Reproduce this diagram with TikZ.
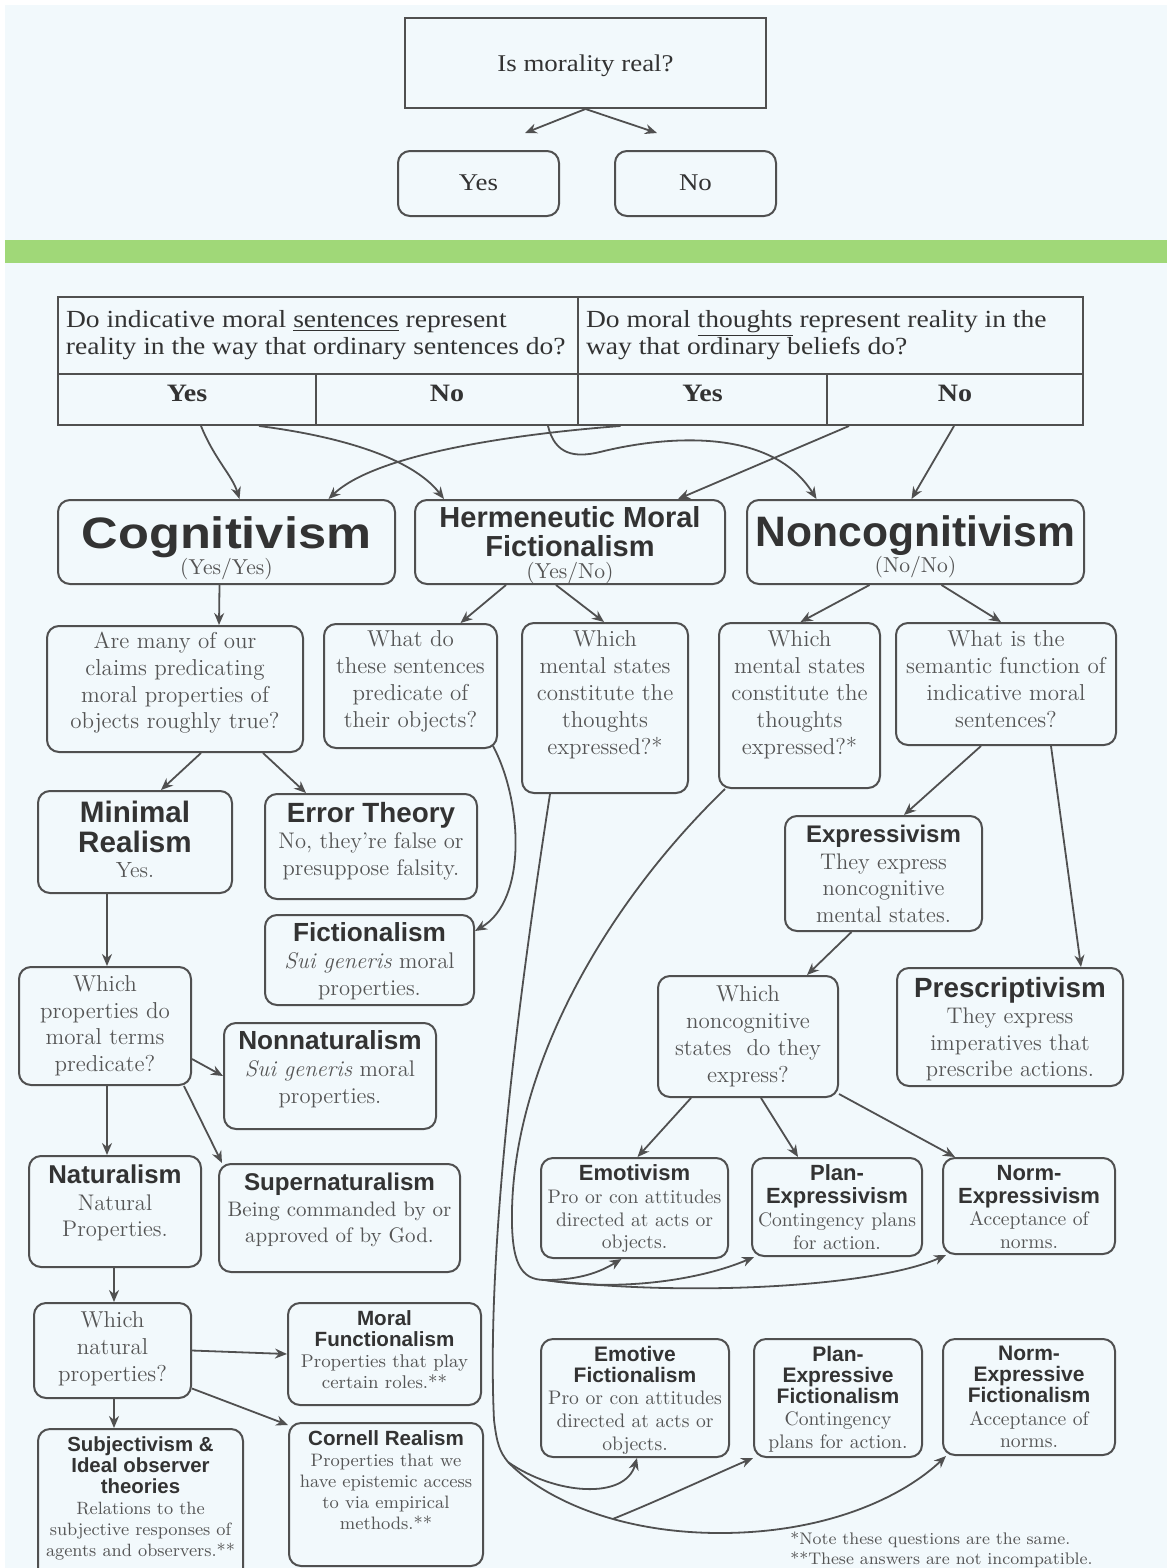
\documentclass[tikz,border=0pt]{standalone}
\usepackage{fontspec}
\newfontfamily\hfam{Liberation Sans}
\newfontfamily\tfam{Liberation Serif}[FakeStretch=1.12]
\usetikzlibrary{arrows.meta,calc}
\definecolor{bg}{HTML}{F2F9FC}
\definecolor{band}{HTML}{A0D878}
\definecolor{linec}{HTML}{505050}
\definecolor{headc}{HTML}{333333}
\definecolor{bodyc}{HTML}{555555}
\newdimen\pxu \pxu=0.5pt
\newcommand\pb[4]{\parbox[c][\dimexpr\pxu*(#2)\relax][t]{\dimexpr\pxu*(#1)\relax}{\centering\vspace*{\dimexpr\pxu*(#3)\relax}#4\par}}
\newcommand\bx[8][box]{\node[#1,anchor=north west,inner sep=0pt] (#2) at (#3,#4) {\pb{#5-#3}{#6-#4}{#7}{#8}};}
\newcommand\Hd[2]{\hfam\bfseries\fontsize{#1}{#2}\selectfont\color{headc}}
\newcommand\Bd[2]{\rmfamily\fontsize{#1}{#2}\selectfont\color{bodyc}}
\newcommand\Td[2]{\tfam\fontsize{#1}{#2}\selectfont\color{headc}}
\tikzset{
 box/.style={draw=linec, line width=1pt, rounded corners=6pt, fill=bg},
 cell/.style={draw=linec, line width=1pt, fill=bg},
 arr/.style={draw=linec, line width=0.9pt, -{Stealth[length=6pt,width=5pt]}},
 con/.style={draw=linec, line width=0.9pt},
}
\begin{document}
\begin{tikzpicture}[x=0.5pt,y=-0.5pt]
\useasboundingbox (0,0) rectangle (1167,1568);
\clip (0,0) rectangle (1167,1568);
\fill[white] (0,0) rectangle (1167,1568);
\fill[bg] (5,5) rectangle (1167,1568);
\fill[band] (5,240) rectangle (1167,263);

% top question
\bx[cell]{q0}{404}{17}{765}{107}{37}{\Td{12}{14}Is morality real?}
\bx{yes0}{397}{150}{558}{215}{24}{\Td{12}{14}Yes}
\bx{no0}{614}{150}{775}{215}{24}{\Td{12}{14}No}
\coordinate (ay) at (525,133);
\coordinate (an) at (657,133);
\draw[arr] (q0.south) -- (ay);
\draw[arr] (q0.south) -- (an);

% table
\bx[cell]{th1}{57}{296}{577}{373}{13}{{\raggedright\leftskip=4pt\Td{12.3}{13.5}Do indicative moral \underline{sentences} represent\\reality in the way that ordinary sentences do?\par}}
\bx[cell]{th2}{577}{296}{1082}{373}{13}{{\raggedright\leftskip=4pt\Td{12.3}{13.5}Do moral \underline{thoughts} represent reality in the\\way that ordinary beliefs do?\par}}
\bx[cell]{ty1}{57}{373}{315}{424}{11}{\Td{12.5}{14}\bfseries Yes}
\bx[cell]{tn1}{315}{373}{577}{424}{11}{\Td{12.5}{14}\bfseries No}
\bx[cell]{ty2}{577}{373}{826}{424}{11}{\Td{12.5}{14}\bfseries Yes}
\bx[cell]{tn2}{826}{373}{1082}{424}{11}{\Td{12.5}{14}\bfseries No}

% main positions
\bx{cog}{57}{499}{394}{583}{17}{{\Hd{22}{24}\addfontfeature{FakeStretch=1.15}Cognitivism\par}{\Bd{10.8}{13}(Yes/Yes)\par}}
\bx{herm}{414}{499}{724}{583}{6}{{\Hd{14.5}{14.5}Hermeneutic Moral\\Fictionalism\par}{\Bd{10.8}{11}(Yes/No)\par}}
\bx{noncog}{746}{499}{1083}{583}{16}{{\Hd{21.3}{24}Noncognitivism\par}{\Bd{10.8}{13}(No/No)\par}}

% second row
\bx{q1}{46}{625}{302}{751}{6}{{\Bd{11.5}{13.4}Are many of our\\claims predicating\\moral properties of\\objects roughly true?\par}}
\bx{q2}{323}{623}{496}{747}{7}{{\Bd{11.5}{13.4}What do\\these sentences\\predicate of\\their objects?\par}}
\bx{q3}{521}{622}{687}{792}{8}{{\Bd{11.5}{13.4}Which\\mental states\\constitute the\\thoughts\\expressed?*\par}}
\bx{q4}{718}{622}{879}{787}{8}{{\Bd{11.5}{13.4}Which\\mental states\\constitute the\\thoughts\\expressed?*\par}}
\bx{q5}{895}{622}{1115}{744}{8}{{\Bd{11.5}{13.4}What is the\\semantic function of\\indicative moral\\sentences?\par}}

% left column
\bx{minreal}{37}{790}{231}{892}{10}{{\Hd{14.8}{15}Minimal\\Realism\par}{\Bd{11}{12.5}Yes.\par}}
\bx{error}{264}{793}{476}{898}{8}{{\Hd{13.9}{14}Error Theory\par}{\Bd{11.3}{13.3}No, they’re false or\\presuppose falsity.\par}}
\bx{fict}{264}{914}{473}{1004}{8}{{\Hd{13.1}{14}Fictionalism\par}{\Bd{11.3}{13.3}\textit{Sui generis} moral\\properties.\par}}
\bx{q6}{18}{966}{190}{1084}{9}{{\Bd{11.5}{13.2}Which\\properties do\\moral terms\\predicate?\par}}
\bx{nonnat}{223}{1022}{435}{1128}{8}{{\Hd{13.1}{14}Nonnaturalism\par}{\Bd{11.3}{13.3}\textit{Sui generis} moral\\properties.\par}}
\bx{nat}{28}{1155}{200}{1266}{9}{{\Hd{12.9}{14}Naturalism\par}{\Bd{11.3}{13.3}Natural\\Properties.\par}}
\bx{supernat}{218}{1163}{459}{1271}{9}{{\Hd{12.1}{14}Supernaturalism\par}{\Bd{10.5}{13}Being commanded by or\\approved of by God.\par}}
\bx{q7}{33}{1302}{190}{1397}{9}{{\Bd{11.5}{13.4}Which\\natural\\properties?\par}}
\bx{morfunc}{287}{1302}{480}{1404}{8}{{\Hd{10.3}{10.5}Moral\\Functionalism\par}{\Bd{9.2}{10.5}Properties that play\\certain roles.**\par}}
\bx{cornell}{288}{1422}{482}{1565}{8}{{\Hd{10.3}{11}Cornell Realism\par}{\Bd{9}{10.5}Properties that we\\have epistemic access\\to via empirical\\methods.**\par}}
\bx{subj}{37}{1428}{242}{1580}{8}{{\Hd{10.2}{10.5}Subjectivism \&\\Ideal observer\\theories\par}{\Bd{8.9}{10.5}Relations to the\\subjective responses of\\agents and observers.**\par}}

% right column
\bx{expr}{784}{815}{981}{930}{9}{{\Hd{12}{13}Expressivism\par}{\Bd{11.3}{13.3}They express\\noncognitive\\mental states.\par}}
\bx{presc}{896}{967}{1122}{1085}{9}{{\Hd{13.9}{14}Prescriptivism\par}{\Bd{11.3}{13.3}They express\\imperatives that\\prescribe actions.\par}}
\bx{q8}{657}{975}{837}{1096}{10}{{\Bd{11.5}{13.4}Which\\noncognitive\\states\ \ do they\\express?\par}}
\bx{emot}{540}{1157}{727}{1257}{7}{{\Hd{11}{11.5}Emotivism\par}{\Bd{9.8}{11.3}Pro or con attitudes\\directed at acts or\\objects.\par}}
\bx{plan}{751}{1157}{921}{1255}{7}{{\Hd{11}{11.5}Plan-\\Expressivism\par}{\Bd{9.8}{11.3}Contingency plans\\for action.\par}}
\bx{norm}{942}{1157}{1114}{1253}{7}{{\Hd{11}{11.5}Norm-\\Expressivism\par}{\Bd{9.8}{11.3}Acceptance of\\norms.\par}}
\bx{emfict}{540}{1338}{728}{1456}{7}{{\Hd{10.5}{10.5}Emotive\\Fictionalism\par}{\Bd{9.8}{11.3}Pro or con attitudes\\directed at acts or\\objects.\par}}
\bx{planfict}{753}{1338}{921}{1456}{7}{{\Hd{10.5}{10.5}Plan-\\Expressive\\Fictionalism\par}{\Bd{9.8}{11.3}Contingency\\plans for action.\par}}
\bx{normfict}{942}{1338}{1114}{1454}{7}{{\Hd{10.5}{10.5}Norm-\\Expressive\\Fictionalism\par}{\Bd{9.8}{11.3}Acceptance of\\norms.\par}}

\node[anchor=north west, inner sep=0pt, align=left, text=bodyc, font={\rmfamily\fontsize{8.4}{10}\selectfont}] (notes) at (790,1531) {*Note these questions are the same.\\**These answers are not incompatible.};

% table connectors
\draw[arr] ($(ty1.south)+(14,0)$) .. controls (215,460) and (232,475) .. ($(cog.north)+(13,0)$);
\draw[arr] ($(ty1.south)+(72,0)$) .. controls (330,435) and (410,455) .. ($(herm.north)+(-126,0)$);
\draw[arr] ($(ty2.south)+(-82,0)$) .. controls (540,432) and (380,450) .. ($(cog.north)+(102,0)$);
\draw[arr] ($(tn1.south)+(101,0)$) .. controls (555,455) and (575,458) .. (600,452) .. controls (660,437) and (770,425) .. ($(noncog.north)+(-99,0)$);
\draw[arr] ($(tn2.south)+(-106,0)$) -- ($(herm.north)+(108,0)$);
\draw[arr] ($(tn2.south)+(-1,0)$) -- ($(noncog.north)+(-4,0)$);

% level connectors
\draw[arr] ($(cog.south)+(-7,0)$) -- ($(q1.north)+(44,0)$);
\draw[arr] ($(herm.south)+(-64,0)$) -- ($(q2.north)+(50,0)$);
\draw[arr] ($(herm.south)+(-14,0)$) -- ($(q3.north)+(-1,0)$);
\draw[arr] ($(noncog.south)+(-46,0)$) -- ($(q4.north)+(1,0)$);
\draw[arr] ($(noncog.south)+(26,0)$) -- ($(q5.north)+(-5,0)$);
\draw[arr] ($(q1.south)+(26,0)$) -- ($(minreal.north)+(26,0)$);
\draw[arr] ($(q1.south)+(88,0)$) -- ($(error.north)+(-65,0)$);
\draw[arr] ($(q2.south east)+(-5,-3)$) .. controls (522,800) and (528,900) .. ($(fict.east)+(0,-29)$);
\draw[arr] ($(minreal.south)+(-28,0)$) -- ($(q6.north)+(2,0)$);
\draw[arr] ($(q6.east)+(0,33)$) -- (nonnat.west);
\draw[arr] ($(q6.south)+(2,0)$) -- ($(nat.north)+(-8,0)$);
\draw[arr] ($(q6.south)+(79,0)$) -- ($(supernat.north west)+(4,0)$);
\draw[arr] ($(nat.south)+(-1,0)$) -- ($(q7.north)+(1.5,0)$);
\draw[arr] (q7.east) -- (morfunc.west);
\draw[arr] ($(q7.east)+(0,38)$) -- ($(cornell.north west)+(0,3)$);
\draw[arr] ($(q7.south)+(1.5,0)$) -- ($(subj.north)+(-26.5,0)$);
\draw[arr] ($(q5.south)+(-25,0)$) -- ($(expr.north)+(20.5,0)$);
\draw[arr] ($(q5.south)+(45,0)$) -- ($(presc.north)+(71,0)$);
\draw[arr] ($(expr.south)+(-32,0)$) -- ($(q8.north)+(59,0)$);
\draw[arr] ($(q8.south)+(-57,0)$) -- ($(emot.north)+(3,0)$);
\draw[arr] ($(q8.south)+(13,0)$) -- ($(plan.north)+(-39,0)$);
\draw[arr] ($(q8.south east)+(0,-4)$) -- ($(norm.north west)+(13,0)$);

% noncognitivist mental states -> expressivisms
\coordinate (j1) at (545,1280);
\draw[con] ($(q4.south west)+(7,0)$) .. controls (610,900) and (515,1060) .. (512,1210) .. controls (511,1262) and (520,1280) .. (j1);
\draw[arr] (j1) .. controls (580,1280) and (600,1272) .. ($(emot.south)+(-13,0)$);
\draw[arr] (j1) .. controls (620,1292) and (700,1280) .. ($(plan.south west)+(3,0)$);
\draw[arr] (j1) .. controls (700,1298) and (880,1285) .. ($(norm.south west)+(4,0)$);

% hermeneutic mental states -> fictionalisms
\coordinate (j2) at (508,1462);
\draw[con] ($(q3.south west)+(29,0)$) .. controls (518,1000) and (486,1250) .. (494,1420) .. controls (497,1445) and (500,1452) .. (j2);
\draw[arr] (j2) .. controls (555,1495) and (625,1500) .. ($(emfict.south)+(2,0)$);
\draw[arr] (j2) .. controls (545,1500) and (620,1533) .. (720,1533) coordinate[pos=0.6] (j3) .. controls (830,1533) and (905,1495) .. ($(normfict.south west)+(4,0)$);
\draw[arr] (j3) .. controls (660,1500) and (720,1472) .. (planfict.south west);
\end{tikzpicture}
\end{document}
